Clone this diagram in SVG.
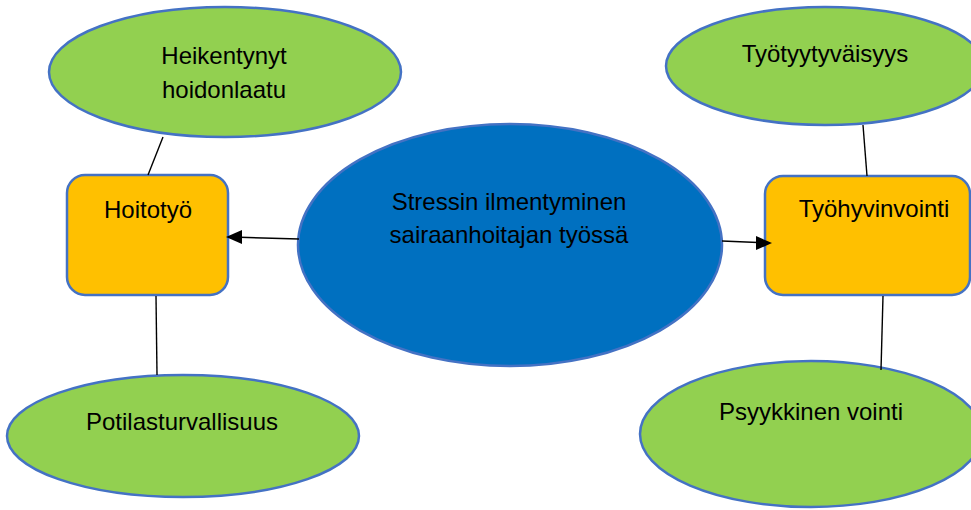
<svg xmlns="http://www.w3.org/2000/svg" width="971" height="510" viewBox="0 0 971 510">
<style>
.g{fill:#92D050;stroke:#4472C4;stroke-width:2.5}
.o{fill:#FFC000;stroke:#4472C4;stroke-width:2.5}
.b{fill:#0070C0;stroke:#4472C4;stroke-width:2.5}
.t{font-family:"Liberation Sans",Arial,sans-serif;font-size:24px;fill:#000;text-anchor:middle}
.c{stroke:#000;stroke-width:1.4;fill:none}
.h{fill:#000}
</style>
<g id="heikentynyt">
<ellipse class="g" cx="225" cy="72" rx="176" ry="65"/>
<text class="t" x="224" y="64">Heikentynyt</text>
<text class="t" x="224" y="98">hoidonlaatu</text>
</g>
<g id="tyotyytyvaisyys">
<ellipse class="g" cx="825" cy="66" rx="159" ry="59"/>
<text class="t" x="825" y="62">Työtyytyväisyys</text>
</g>
<g id="hoitotyo">
<rect class="o" x="67" y="175" width="161" height="120" rx="18"/>
<text class="t" x="148" y="218">Hoitotyö</text>
</g>
<g id="tyohyvinvointi">
<rect class="o" x="765" y="176" width="205" height="119" rx="18"/>
<text class="t" x="874" y="217">Työhyvinvointi</text>
</g>
<g id="stressi">
<ellipse class="b" cx="510" cy="245" rx="212" ry="121"/>
<text class="t" x="509" y="210">Stressin ilmentyminen</text>
<text class="t" x="509" y="243">sairaanhoitajan työssä</text>
</g>
<g id="potilasturvallisuus">
<ellipse class="g" cx="183" cy="436" rx="176" ry="61"/>
<text class="t" x="182" y="430">Potilasturvallisuus</text>
</g>
<g id="psyykkinen">
<ellipse class="g" cx="811" cy="434" rx="171" ry="73"/>
<text class="t" x="811" y="420">Psyykkinen vointi</text>
</g>
<g id="connectors">
<line class="c" x1="163" y1="137" x2="148" y2="175"/>
<line class="c" x1="156" y1="296" x2="157" y2="375"/>
<line class="c" x1="863" y1="125" x2="867" y2="176"/>
<line class="c" x1="883" y1="296" x2="881" y2="370"/>
<line class="c" x1="299" y1="239" x2="240" y2="237.3"/>
<polygon class="h" points="226,237 242,230 242,244"/>
<line class="c" x1="722" y1="241" x2="758" y2="242.5"/>
<polygon class="h" points="772,243 756,236 756,250"/>
</g>
</svg>
